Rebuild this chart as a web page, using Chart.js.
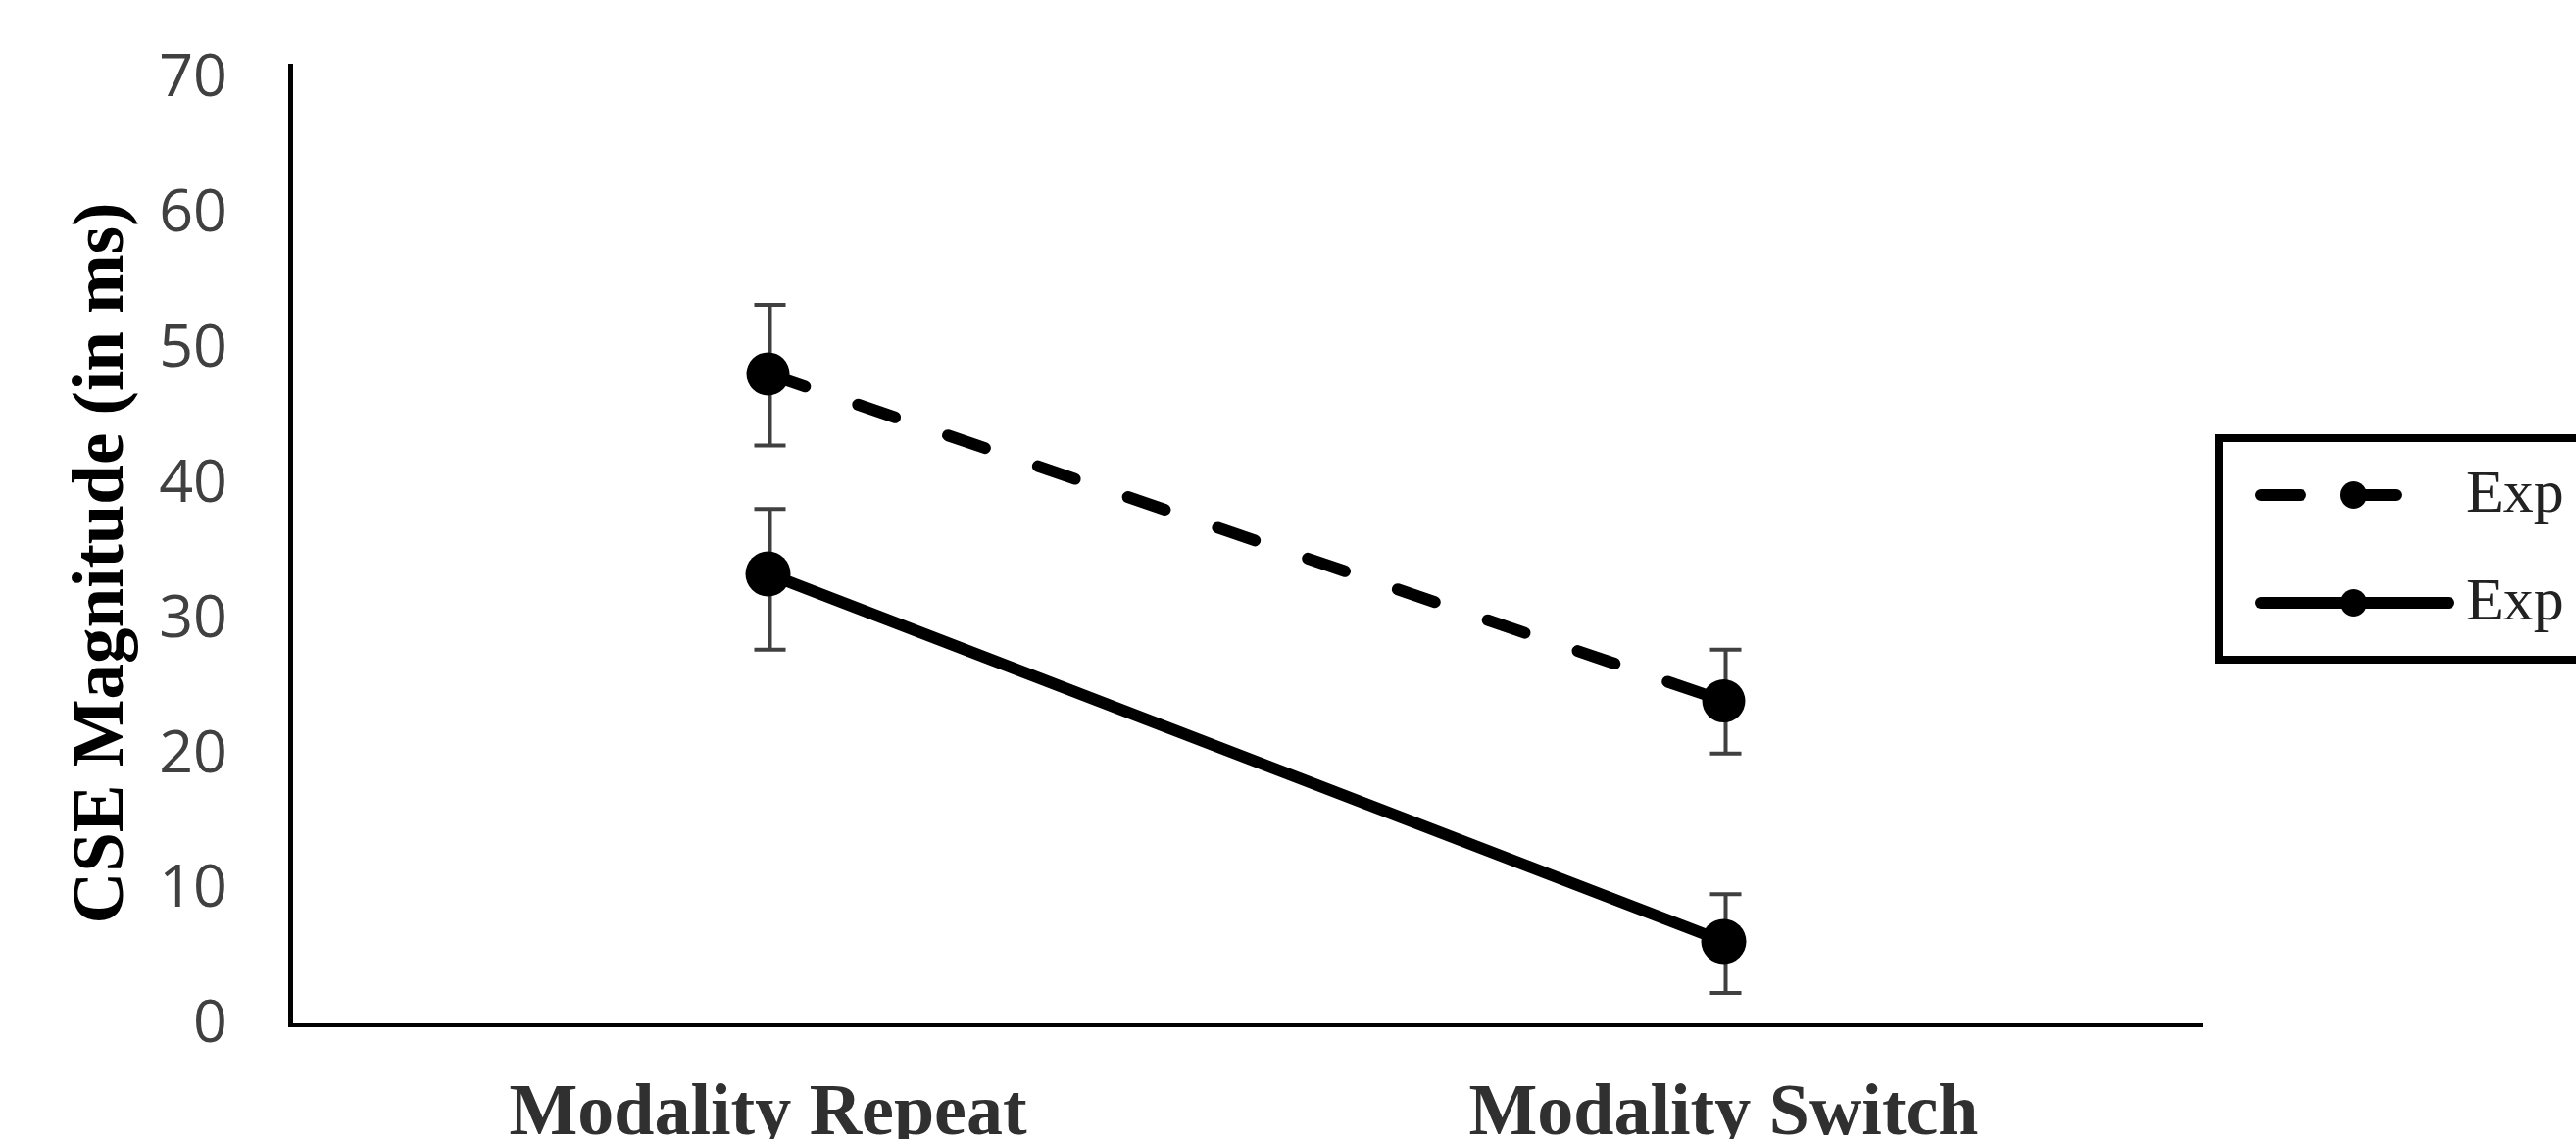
<!DOCTYPE html>
<html><head><meta charset="utf-8">
<script src="https://cdn.jsdelivr.net/npm/chart.js@4/dist/chart.umd.min.js"></script>
<style>html,body{margin:0;padding:0;background:#fff;overflow:hidden}#wrap{width:2628px;height:1162px;position:relative}</style>
</head><body><div id="wrap"><canvas id="c"></canvas></div>
<script>
const categories = ['Modality Repeat', 'Modality Switch'];
const seriesLabels = ['Exp 1', 'Exp 2'];
const exp1Means = [48.2, 24.0];
const exp1ErrPlus = [5.1, 3.8];
const exp1ErrMinus = [5.3, 3.9];
const exp2Means = [33.4, 6.2];
const exp2ErrPlus = [4.8, 3.5];
const exp2ErrMinus = [5.6, 3.8];
const yTickValues = [0, 10, 20, 30, 40, 50, 60, 70];
const yTitle = 'CSE Magnitude (in ms)';

const errorBars = [
  {plus: exp1ErrPlus, minus: exp1ErrMinus},
  {plus: exp2ErrPlus, minus: exp2ErrMinus}
];

const errorBarPlugin = {
  id: 'errorBars',
  beforeDatasetsDraw(chart) {
    const ctx = chart.ctx, y = chart.scales.y;
    ctx.save();
    ctx.strokeStyle = '#404040';
    ctx.lineWidth = 4;
    chart.data.datasets.forEach((ds, i) => {
      const meta = chart.getDatasetMeta(i);
      meta.data.forEach((pt, j) => {
        const v = ds.data[j];
        const yt = y.getPixelForValue(v + errorBars[i].plus[j]);
        const yb = y.getPixelForValue(v - errorBars[i].minus[j]);
        const x = pt.x + 2;
        ctx.beginPath();
        ctx.moveTo(x, yt); ctx.lineTo(x, yb);
        ctx.moveTo(x - 16, yt); ctx.lineTo(x + 16, yt);
        ctx.moveTo(x - 16, yb); ctx.lineTo(x + 16, yb);
        ctx.stroke();
      });
    });
    ctx.restore();
  }
};

const yTitlePlugin = {
  id: 'yTitle',
  afterDraw(chart) {
    const ctx = chart.ctx;
    const ca = chart.chartArea;
    ctx.save();
    ctx.translate(125, (ca.top + ca.bottom) / 2 + 18);
    ctx.rotate(-Math.PI / 2);
    ctx.fillStyle = '#000';
    ctx.font = 'bold 73px "Liberation Serif", "Times New Roman", serif';
    ctx.textAlign = 'center';
    ctx.textBaseline = 'alphabetic';
    ctx.fillText(yTitle, 0, 0);
    ctx.restore();
  }
};

const boxLegendPlugin = {
  id: 'boxLegend',
  afterDraw(chart) {
    const ctx = chart.ctx;
    const ca = chart.chartArea;
    const left = ca.right + 18, top = 447, bottom = 673;
    ctx.save();
    ctx.strokeStyle = '#000';
    ctx.lineWidth = 8;
    ctx.strokeRect(left, top, chart.width - left + 20, bottom - top);
    const rows = [505, 615];
    chart.data.datasets.forEach((ds, i) => {
      const yy = rows[i];
      ctx.beginPath();
      ctx.setLineDash(ds.borderDash || []);
      ctx.lineCap = 'round';
      ctx.lineWidth = 12;
      ctx.strokeStyle = '#000';
      ctx.moveTo(left + 43, yy);
      ctx.lineTo(left + 234, yy);
      ctx.stroke();
      ctx.setLineDash([]);
      ctx.beginPath();
      ctx.fillStyle = '#000';
      ctx.arc(left + 137, yy, 14, 0, Math.PI * 2);
      ctx.fill();
      ctx.fillStyle = '#222';
      ctx.font = '62px "Liberation Serif", "Times New Roman", serif';
      ctx.textBaseline = 'middle';
      ctx.textAlign = 'left';
      ctx.fillText(ds.label, left + 252, yy + 1);
    });
    ctx.restore();
  }
};

new Chart(document.getElementById('c'), {
  type: 'line',
  data: {
    labels: categories,
    datasets: [
      {
        label: seriesLabels[0], data: exp1Means,
        borderColor: '#000', borderWidth: 12, borderDash: [40, 57], borderCapStyle: 'round',
        pointRadius: 22, pointBackgroundColor: '#000', pointBorderWidth: 0, pointHoverRadius: 22,
        fill: false, tension: 0
      },
      {
        label: seriesLabels[1], data: exp2Means,
        borderColor: '#000', borderWidth: 12, borderCapStyle: 'round',
        pointRadius: 23, pointBackgroundColor: '#000', pointBorderWidth: 0, pointHoverRadius: 23,
        fill: false, tension: 0
      }
    ]
  },
  options: {
    responsive: true,
    maintainAspectRatio: false,
    animation: false,
    events: [],
    layout: {padding: {left: 0, right: 382, top: 67, bottom: 0}},
    plugins: {legend: {display: false}, tooltip: {enabled: false}},
    scales: {
      x: {
        type: 'category', offset: true,
        grid: {display: false, drawTicks: false},
        border: {display: true, color: '#000', width: 4},
        ticks: {
          color: '#303030', padding: 47, maxRotation: 0, autoSkip: false,
          font: {family: '"Liberation Serif", "Times New Roman", serif', size: 74, weight: 'bold'}
        },
        afterFit(scale) { scale.height = 116; }
      },
      y: {
        min: 0, max: 71,
        grid: {display: false, drawTicks: true, tickLength: 64},
        border: {display: true, color: '#000', width: 5},
        afterBuildTicks(axis) { axis.ticks = yTickValues.map(v => ({value: v})); },
        ticks: {
          color: '#404040', padding: 0,
          font: {family: '"Open Sans", "Noto Sans", sans-serif', size: 61}
        },
        afterFit(scale) { scale.width = 296; }
      }
    }
  },
  plugins: [errorBarPlugin, yTitlePlugin, boxLegendPlugin]
});
</script></body></html>
